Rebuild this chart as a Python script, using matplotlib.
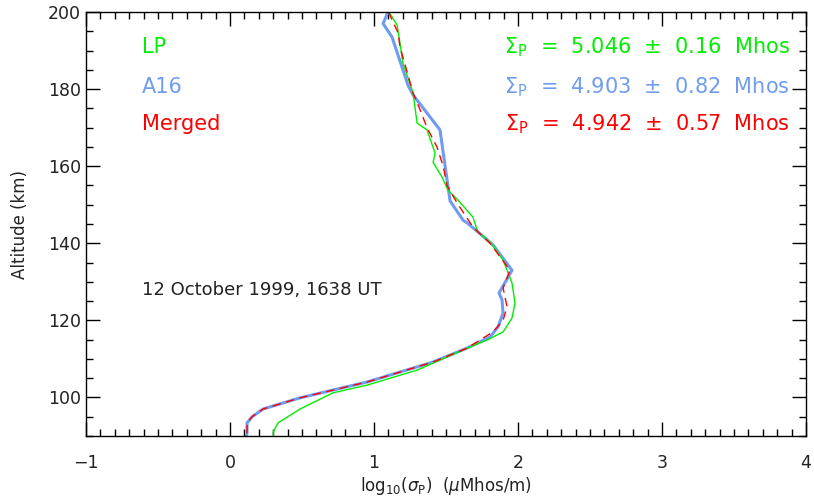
import numpy as np
import matplotlib
matplotlib.use("Agg")
import matplotlib.pyplot as plt
from matplotlib.ticker import MultipleLocator

# LP profile (log10 sigma_P, altitude km)
lp_x = [1.104, 1.16, 1.18, 1.20, 1.229, 1.271, 1.299, 1.368, 1.424, 1.41, 1.472, 1.514,
        1.583, 1.687, 1.72, 1.806, 1.896, 1.958, 1.979, 1.958, 1.896, 1.785, 1.646,
        1.299, 0.951, 0.715, 0.486, 0.333, 0.299, 0.30]
lp_y = [200, 196.6, 192, 186.8, 183.7, 179, 171.2, 169.4, 163.4, 161, 157.2, 153.8,
        151.2, 146.8, 143, 140.3, 135.7, 129.7, 124.5, 120.6, 117, 114.9, 112.8,
        107.1, 103.2, 101.2, 97, 93.4, 91, 90]

# A16 profile
a16_x = [1.097, 1.063, 1.125, 1.236, 1.271, 1.458, 1.528, 1.618, 1.646, 1.72, 1.826,
         1.958, 1.868, 1.889, 1.896, 1.861, 1.806, 1.646, 1.41, 0.951, 0.486, 0.229,
         0.153, 0.118, 0.118, 0.115]
a16_y = [200, 197, 193.5, 181, 178.5, 169.4, 151, 146, 145.3, 143, 139.6,
         133, 127.1, 125.3, 121.9, 118.3, 115.7, 112.8, 109.2, 104, 99.9, 97,
         95, 93.4, 91, 90]

# Merged profile
mrg_x = [1.10, 1.167, 1.18, 1.271, 1.32, 1.368, 1.437, 1.48, 1.507, 1.576, 1.687,
         1.806, 1.944, 1.896, 1.924, 1.896, 1.826, 1.646, 1.41, 0.951, 0.486, 0.229,
         0.153, 0.118, 0.118, 0.115]
mrg_y = [200, 194.6, 191, 179, 174.6, 170, 165, 160, 155, 150.5, 144.2,
         140, 133, 128.4, 123.5, 120, 117, 112.8, 109.2, 104, 99.9, 97,
         95, 93.4, 91, 90]

names = ["LP", "A16", "Merged"]
sig_vals = ["5.046", "4.903", "4.942"]
sig_errs = ["0.16", "0.82", "0.57"]
colors = ["#00ee00", "#6f9cf0", "#ff0000"]

plt.rcParams['font.family'] = ['DejaVu Sans']
fig = plt.figure(figsize=(8.14, 5.01), dpi=100)
ax = fig.add_axes([0.1057, 0.1297, 0.8845, 0.8463])

ax.plot(a16_x, a16_y, color=colors[1], lw=2.2)
ax.plot(lp_x, lp_y, color=colors[0], lw=1.0)
ax.plot(mrg_x, mrg_y, color=colors[2], lw=1.0, dashes=(6, 4))

ax.set_xlim(-1, 4)
ax.set_ylim(90, 200)
ax.xaxis.set_major_locator(MultipleLocator(1))
ax.xaxis.set_minor_locator(MultipleLocator(0.1))
ax.yaxis.set_major_locator(MultipleLocator(20))
ax.yaxis.set_minor_locator(MultipleLocator(5))
ax.tick_params(which='both', direction='in', top=True, right=True, labelsize=12.5,
               labelcolor='#222222')
ax.tick_params(which='major', length=10, width=1)
ax.tick_params(which='minor', length=5, width=1)
ax.tick_params(axis='x', which='major', pad=13)
for s in ax.spines.values():
    s.set_linewidth(1)

ax.set_xlabel(r"log$_{10}$($\sigma_\mathrm{P}$)  ($\mu$Mhos/m)", fontsize=12,
              labelpad=2, color='#222222')
ax.set_ylabel("Altitude (km)", fontsize=12, labelpad=14, color='#222222')

label_y = [47, 87, 124]
for i in range(3):
    yy = 1 - (label_y[i] - 12) / 424.0
    ax.text(0.078, yy, names[i], color=colors[i], fontsize=15,
            transform=ax.transAxes, va='center', ha='left')
    ax.text(0.978, yy,
            r"$\Sigma_\mathrm{P}$  =  " + sig_vals[i] + "  ±  " + sig_errs[i] + "  Mhos",
            color=colors[i], fontsize=15, transform=ax.transAxes, va='center', ha='right')

ax.text(0.078, 1 - (290 - 12) / 424.0, "12 October 1999, 1638 UT", fontsize=13,
        transform=ax.transAxes, va='center', ha='left', color='#222222')

fig.savefig("out.png", dpi=100)
